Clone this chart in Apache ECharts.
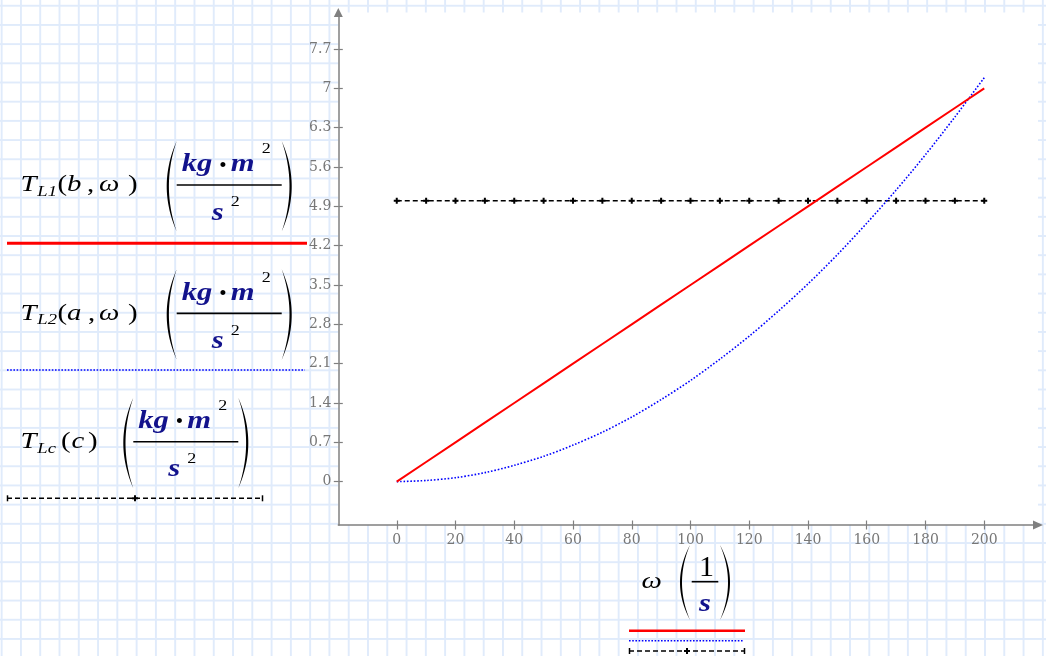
<!DOCTYPE html>
<html><head><meta charset="utf-8">
<script src="https://cdn.jsdelivr.net/npm/echarts@6/dist/echarts.min.js"></script>
<style>
html,body{margin:0;padding:0;}
#c{width:1046px;height:656px;background-color:#fff;
background-image:linear-gradient(to right,#e0ebfb 2px,transparent 2px),linear-gradient(to bottom,#e0ebfb 2px,transparent 2px);
background-size:19.29px 19.2px;background-position:0.7px 4.8px;}
</style></head><body><div id="c"></div>
<script>
// ---- data ----
const omega = [0,10,20,30,40,50,60,70,80,90,100,110,120,130,140,150,160,170,180,190,200];
const tL1 = [0,0.35,0.7,1.05,1.4,1.75,2.1,2.45,2.8,3.15,3.5,3.85,4.2,4.55,4.9,5.25,5.6,5.95,6.3,6.65,7.0];
const tL2 = [0,0.02,0.07,0.16,0.29,0.45,0.65,0.88,1.15,1.46,1.80,2.18,2.59,3.04,3.52,4.04,4.60,5.19,5.82,6.49,7.19];
const tLc = [5,5,5,5,5,5,5,5,5,5,5,5,5,5,5,5,5,5,5,5,5];
const xTicks = [0,20,40,60,80,100,120,140,160,180,200];
const yTicks = [0,0.7,1.4,2.1,2.8,3.5,4.2,4.9,5.6,6.3,7,7.7];

const SERIF = '"Liberation Serif","Times New Roman",serif';
const TICKFONT = '"DejaVu Serif",serif';
const NAVY = '#12128c';
const chart = echarts.init(document.getElementById('c'), null, {renderer:'canvas'});

function txt(s, x, base, size, o) {
  o = o || {};
  return {type:'text', x:x, y:base - 0.34*size, scaleX:(o.sx||1.2), silent:true, z:10,
    style:{text:s, fill:o.fill||'#000', verticalAlign:'middle', align:o.align||'left',
      font:(o.italic?'italic ':'') + (o.bold?'bold ':'') + size + 'px ' + SERIF}};
}
function paren(xOut, xEnd, top, bottom, thick) {
  const n = 30, pts = [];
  const cOut = 2*xOut - xEnd;
  const xIn = xOut < xEnd ? xOut + thick : xOut - thick;
  const cIn = 2*xIn - xEnd;
  const mid = (top+bottom)/2;
  for (let i=0;i<=n;i++){const t=i/n;pts.push([(1-t)*(1-t)*xEnd+2*t*(1-t)*cOut+t*t*xEnd,(1-t)*(1-t)*top+2*t*(1-t)*mid+t*t*bottom]);}
  for (let i=n;i>=0;i--){const t=i/n;pts.push([(1-t)*(1-t)*xEnd+2*t*(1-t)*cIn+t*t*xEnd,(1-t)*(1-t)*top+2*t*(1-t)*mid+t*t*bottom]);}
  return {type:'polygon', silent:true, z:10, shape:{points:pts}, style:{fill:'#000'}};
}
function line(x1,y1,x2,y2,stroke,w,dash){
  return {type:'line', silent:true, z:10, shape:{x1:x1,y1:y1,x2:x2,y2:y2}, style:{stroke:stroke, lineWidth:w, lineDash:dash||null}};
}
function dashedKey(x1,x2,y,xm){
  return [line(x1,y,x2,y,'#000',1.5,[5,3]), line(x1+0.5,y-3,x1+0.5,y+3,'#000',1.5), line(x2-0.5,y-3,x2-0.5,y+3,'#000',1.5),
    line(xm-3,y,xm+3,y,'#000',2), line(xm,y-3,xm,y+3,'#000',2)];
}
function units(px, fy) {
  const out = [];
  out.push(paren(px, px+10, fy-44, fy+46.5, 2.2));
  out.push(paren(px+125, px+115, fy-44, fy+46.5, 2.2));
  out.push(txt('kg', px+15, fy-11.6, 25.5, {italic:true,bold:true,fill:NAVY}));
  out.push(txt('•', px+52.5, fy-11.6, 21, {sx:1}));
  out.push(txt('m', px+64, fy-11.6, 25.5, {italic:true,bold:true,fill:NAVY}));
  out.push(txt('2', px+95, fy-30.5, 15, {}));
  out.push(line(px+10, fy, px+115, fy, '#000', 1.6));
  out.push(txt('s', px+45, fy+36.7, 25.5, {italic:true,bold:true,fill:NAVY}));
  out.push(txt('2', px+64, fy+22.5, 15, {}));
  return out;
}
const legends = [
  {fy:185, sub:'L1', args:[['(',57.5,0],['b',67,1],[',',87,0],['ω',99,1],[')',128,0]], px:166.7},
  {fy:313.35, sub:'L2', args:[['(',57.5,0],['a',67,1],[',',88,0],['ω',99,1],[')',128,0]], px:166.7},
  {fy:441.7, sub:'Lc', args:[['(',61,0],['c',71.5,1],[')',88,0]], px:123.3}
];
let g = [];
legends.forEach(function(L){
  const b = L.fy + 8.3;
  g.push(txt('T', 20.5, b, 24, {italic:true}));
  g.push(txt(L.sub, 37.3, b+3.7, 15.5, {italic:true}));
  L.args.forEach(function(a){ g.push(txt(a[0], a[1], b, 24, {italic:!!a[2]})); });
  g = g.concat(units(L.px, L.fy));
});
g.push(line(7,243.3,307,243.3,'#ff0000',3));
g.push(line(7,370,305,370,'#0000ff',1.6,[1.6,1.6]));
g = g.concat(dashedKey(7,263,498.3,135));
// x-axis title
g.push(txt('ω', 641.5, 590, 24, {italic:true}));
g.push(paren(680, 690, 545, 620, 2));
g.push(paren(730, 720, 545, 620, 2));
g.push(txt('1', 699, 578.3, 30, {sx:1}));
g.push(line(691.7, 581.7, 718.3, 581.7, '#000', 1.6));
g.push(txt('s', 699, 613.3, 25.5, {italic:true,bold:true,fill:NAVY}));
g.push(line(629,630.7,745,630.7,'#ff0000',2.5));
g.push(line(629,640.7,743,640.7,'#0000ff',1.6,[1.6,1.6]));
g = g.concat(dashedKey(629,745,651,687));

const AX = '#808080';
const xMin = -19.9, xMax = 218.3, yMin = -0.772, yMax = 8.35;
const option = {
  animation:false,
  grid:{left:338.3, right:8, top:12.5, bottom:131, show:true, backgroundColor:'#ffffff', borderWidth:0},
  xAxis:[
    {type:'value', min:xMin, max:xMax, splitLine:{show:false},
      axisLine:{onZero:false, lineStyle:{color:AX,width:1.5}, symbol:['none','triangle'], symbolSize:[9,10]},
      axisTick:{customValues:xTicks, length:4.5, lineStyle:{color:AX,width:1.2}},
      axisLabel:{customValues:xTicks, color:'#777777', fontFamily:TICKFONT, fontSize:14, margin:8}},
    {type:'value', min:xMin, max:xMax, position:'bottom', splitLine:{show:false},
      axisLine:{show:false,onZero:false}, axisLabel:{show:false},
      axisTick:{inside:true, customValues:xTicks, length:4.5, lineStyle:{color:AX,width:1.2}}}
  ],
  yAxis:[
    {type:'value', min:yMin, max:yMax, splitLine:{show:false},
      axisLine:{show:true, onZero:false, lineStyle:{color:AX,width:1.5}, symbol:['none','triangle'], symbolSize:[9,9]},
      axisTick:{show:true, customValues:yTicks, length:4.5, lineStyle:{color:AX,width:1.2}},
      axisLabel:{customValues:yTicks, color:'#777777', fontFamily:TICKFONT, fontSize:14, margin:7}},
    {type:'value', min:yMin, max:yMax, position:'left', splitLine:{show:false},
      axisLine:{show:false,onZero:false}, axisLabel:{show:false},
      axisTick:{show:true, inside:true, customValues:yTicks, length:4.5, lineStyle:{color:AX,width:1.2}}}
  ],
  series:[
    {type:'line', name:'TL1', xAxisIndex:0, yAxisIndex:0, data:omega.map(function(w,i){return [w,tL1[i]];}),
      symbol:'none', lineStyle:{color:'#ff0000', width:2}, z:4},
    {type:'line', name:'TL2', xAxisIndex:0, yAxisIndex:0, data:omega.map(function(w,i){return [w,tL2[i]];}),
      symbol:'none', smooth:0.3, lineStyle:{color:'#0000ff', width:1.6, type:[1.6,1.8]}, z:3},
    {type:'line', name:'TLc', xAxisIndex:0, yAxisIndex:0, data:omega.map(function(w,i){return [w,tLc[i]];}),
      symbol:'path://M0 2H6V4H0Z M2 0H4V6H2Z', symbolSize:6, showSymbol:true, showAllSymbol:true,
      itemStyle:{color:'#000'}, lineStyle:{color:'#000', width:1.5, type:[5,3]}, z:2}
  ],
  graphic:g
};
chart.setOption(option);
</script></body></html>
